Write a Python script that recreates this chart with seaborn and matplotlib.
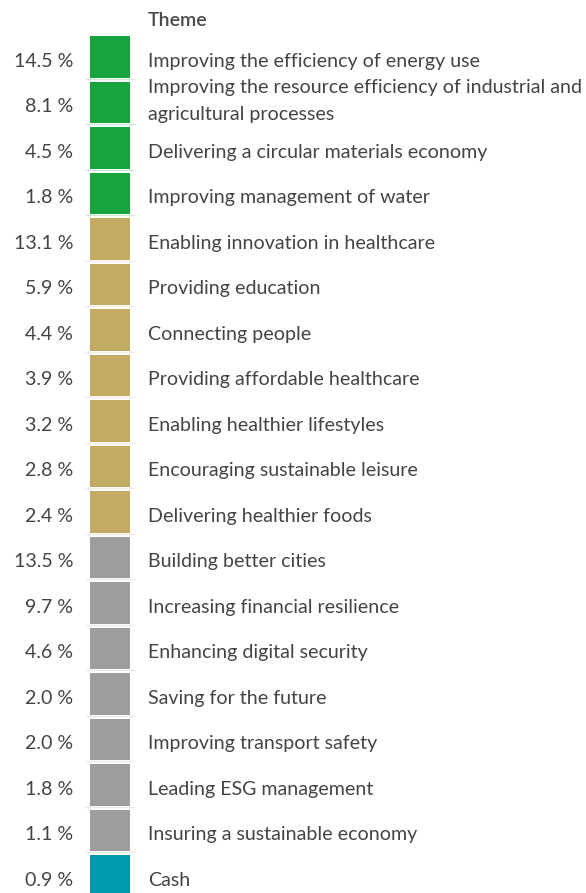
import numpy as np
import pandas as pd
import seaborn as sns
import matplotlib
matplotlib.use("Agg")
import matplotlib.pyplot as plt
from matplotlib.colors import ListedColormap, to_rgb
from matplotlib import transforms

# ---- data ----
themes = [
    "Improving the efficiency of energy use",
    "Improving the resource efficiency of industrial and\nagricultural processes",
    "Delivering a circular materials economy",
    "Improving management of water",
    "Enabling innovation in healthcare",
    "Providing education",
    "Connecting people",
    "Providing affordable healthcare",
    "Enabling healthier lifestyles",
    "Encouraging sustainable leisure",
    "Delivering healthier foods",
    "Building better cities",
    "Increasing financial resilience",
    "Enhancing digital security",
    "Saving for the future",
    "Improving transport safety",
    "Leading ESG management",
    "Insuring a sustainable economy",
    "Cash",
]
weights = [14.5, 8.1, 4.5, 1.8, 13.1, 5.9, 4.4, 3.9, 3.2, 2.8, 2.4,
           13.5, 9.7, 4.6, 2.0, 2.0, 1.8, 1.1, 0.9]
groups = ["Environment"] * 4 + ["Social"] * 7 + ["Economic"] * 7 + ["Cash"]
group_order = ["Environment", "Social", "Economic", "Cash"]
group_colors = ["#17a43f", "#c4ab63", "#9d9d9c", "#0099ae"]
header = "Theme"

# ---- figure ----
W, H, DPI = 586, 893, 100
sns.set_theme(style="white")
plt.rcParams["font.family"] = ["Lato", "DejaVu Sans"]
fig = plt.figure(figsize=(W / DPI, H / DPI), dpi=DPI)
fig.patch.set_facecolor("white")

pitch = 45.5      # px per row
gap = 4.0         # px between squares
sq_left, sq_right, top = 90, 130, 36
n = len(themes)
ax_left = sq_left - gap / 2
ax_w = (sq_right - sq_left) + gap
ax_top = top - gap / 2
ax_h = n * pitch
ax = fig.add_axes([ax_left / W, (H - ax_top - ax_h) / H, ax_w / W, ax_h / H])

df = pd.DataFrame({"theme": themes, "weight": weights, "group": groups})
codes = df["group"].map({g: i for i, g in enumerate(group_order)}).to_numpy().reshape(-1, 1)
sns.heatmap(codes, ax=ax, cmap=ListedColormap(group_colors), vmin=-0.5, vmax=3.5,
            cbar=False, linewidths=gap * 72 / DPI, linecolor="white",
            xticklabels=False, yticklabels=False)
ax.set_xticks([]); ax.set_yticks([])

# faint separator lines under each square
unit = 1.0 / pitch
for i, g in enumerate(df["group"]):
    c = np.array(to_rgb(group_colors[group_order.index(g)]))
    light = 1 - (1 - c) * 0.22
    y = i + 1 - 1.0 * unit
    ax.plot([-3 / ax_w, 1 + 3 / ax_w], [y, y], color=light, lw=0.9,
            clip_on=False, solid_capstyle="butt")

FW = "normal"
# font sizing: fit reference width of the first label (~332 px)
probe = fig.text(0, 0, themes[0], fontsize=10, fontweight=FW)
r = fig.canvas.get_renderer()
w10 = probe.get_window_extent(r).width
probe.remove()
fs = 10 * 332 / w10

tr = transforms.blended_transform_factory(fig.transFigure, ax.transData)
txt_color = "#444444"
for i, row in df.iterrows():
    yb = i + 0.5 + 10 * unit
    ax.text(73 / W, yb, f"{row['weight']:.1f} %", transform=tr, ha="right", va="baseline",
            fontsize=fs, fontweight=FW, color=txt_color, clip_on=False)
    lines = row["theme"].split("\n")
    if len(lines) == 1:
        ax.text(148 / W, yb, lines[0], transform=tr, ha="left", va="baseline",
                fontsize=fs, fontweight=FW, color=txt_color, clip_on=False)
    else:
        ax.text(148 / W, i + 0.5 - 9 * unit, lines[0], transform=tr, ha="left", va="baseline",
                fontsize=fs, fontweight=FW, color=txt_color, clip_on=False)
        ax.text(148 / W, i + 0.5 + 18 * unit, lines[1], transform=tr, ha="left", va="baseline",
                fontsize=fs, fontweight=FW, color=txt_color, clip_on=False)

fig.text(148 / W, 1 - 26 / H, header, ha="left", va="baseline", fontsize=fs,
         fontweight="semibold", color="#4a4a4a")

fig.savefig("out.png", dpi=DPI, facecolor="white")
